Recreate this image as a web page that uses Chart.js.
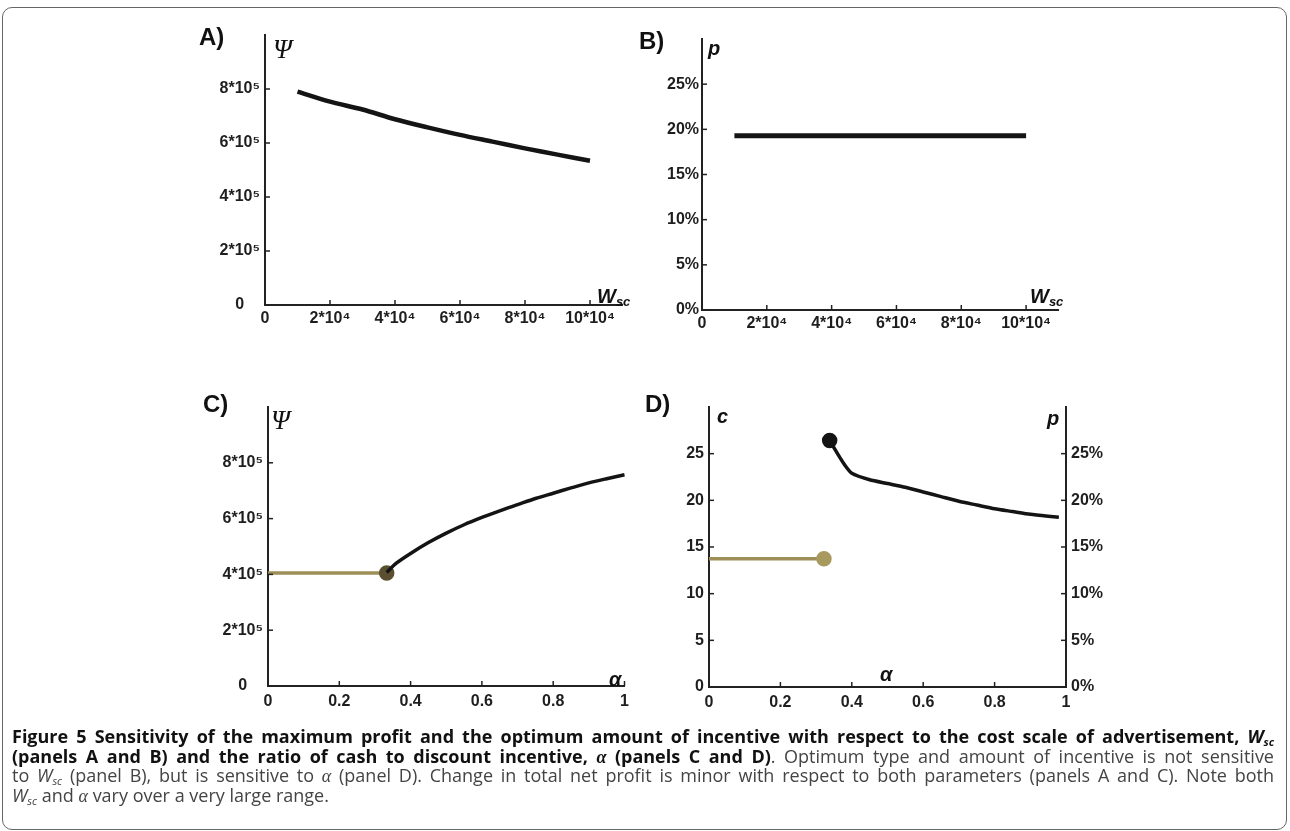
<!DOCTYPE html>
<html>
<head>
<meta charset="utf-8">
<script src="https://cdn.jsdelivr.net/npm/chart.js@4/dist/chart.umd.min.js"></script>
<style>
  body { margin: 0; background: #fff; width: 1290px; height: 831px; overflow: hidden; position: relative; }
  canvas { position: absolute; }
  .frame { position: absolute; left: 2px; top: 7px; width: 1283px; height: 821px; border: 1.5px solid #666; border-radius: 10px; }
  .lbl { position: absolute; line-height: 1; white-space: nowrap; color: #111; }
  .panel { font: bold 24px "Liberation Sans", Arial, sans-serif; }
  .psi { font: italic 27px "Liberation Serif", serif; }
  .var { font: bold italic 20px "Liberation Sans", Arial, sans-serif; }
  .var sub { font-size: 13px; vertical-align: -3px; }
  .cap { position: absolute; left: 12px; height: 19.3px; line-height: 19.3px; white-space: nowrap;
         transform-origin: 0 0; font-family: "Open Sans", sans-serif; font-size: 18px; color: #444; }
  .cap.just { text-align: justify; text-align-last: justify; }
  .cap b { color: #111; font-weight: 700; }
  .cap .al { font-family: "Liberation Serif", serif; font-style: italic; }
  .cap sub { font-size: 11px; vertical-align: -3px; }
</style>
</head>
<body>
<div class="frame"></div>

<canvas id="panelA"></canvas>
<canvas id="panelB"></canvas>
<canvas id="panelC"></canvas>
<canvas id="panelD"></canvas>

<div class="lbl panel" style="left:199px;top:23px">A)</div>
<div class="lbl panel" style="left:639px;top:27px">B)</div>
<div class="lbl panel" style="left:203px;top:390px">C)</div>
<div class="lbl panel" style="left:645px;top:390px">D)</div>

<div class="lbl psi" style="left:273px;top:34px">Ψ</div>
<div class="lbl var" style="left:597px;top:285px">W<sub>sc</sub></div>
<div class="lbl var" style="left:708px;top:37px">p</div>
<div class="lbl var" style="left:1030px;top:285px">W<sub>sc</sub></div>
<div class="lbl psi" style="left:271px;top:405px">Ψ</div>
<div class="lbl var" style="left:609px;top:668px">α</div>
<div class="lbl var" style="left:717px;top:405px">c</div>
<div class="lbl var" style="left:1047px;top:407px">p</div>
<div class="lbl var" style="left:880px;top:663px">α</div>

<div class="cap just" style="top:727px"><b>Figure 5 Sensitivity of the maximum profit and the optimum amount of incentive with respect to the cost scale of advertisement, <i>W</i><sub><i>sc</i></sub></b></div>
<div class="cap just" style="top:746.5px"><b>(panels A and B) and the ratio of cash to discount incentive, <span class="al">α</span> (panels C and D)</b>. Optimum type and amount of incentive is not sensitive</div>
<div class="cap just" style="top:766px">to <i>W</i><sub><i>sc</i></sub> (panel B), but is sensitive to <span class="al">α</span> (panel D). Change in total net profit is minor with respect to both parameters (panels A and C). Note both</div>
<div class="cap" style="top:785.5px"><i>W</i><sub><i>sc</i></sub> and <span class="al">α</span> vary over a very large range.</div>

<script>
// tick values and labels
const wscTicks = [0, 20000, 40000, 60000, 80000, 100000];
const wscTickLabels = ['0', '2*10⁴', '4*10⁴', '6*10⁴', '8*10⁴', '10*10⁴'];
const psiTicks = [0, 200000, 400000, 600000, 800000];
const psiTickLabels = ['0', '2*10⁵', '4*10⁵', '6*10⁵', '8*10⁵'];
const pctTicks = [0, 0.05, 0.10, 0.15, 0.20, 0.25];
const pctTickLabels = ['0%', '5%', '10%', '15%', '20%', '25%'];
const alphaTicks = [0, 0.2, 0.4, 0.6, 0.8, 1];
const alphaTickLabels = ['0', '0.2', '0.4', '0.6', '0.8', '1'];
const cashTicks = [0, 5, 10, 15, 20, 25];
const cashTickLabels = ['0', '5', '10', '15', '20', '25'];

// panel A: profit vs W_sc
const wscA = [10000, 20000, 30000, 40000, 50000, 60000, 70000, 80000, 90000, 100000];
const psiA = [790000, 753000, 724000, 688000, 658000, 630000, 605000, 580000, 557000, 534000];

// panel B: discount vs W_sc
const wscB = [10000, 100000];
const pB = [0.193, 0.193];

// panel C: profit vs alpha
const alphaCashC = [0, 0.333];
const psiCashC = [405000, 405000];
const alphaDiscC = [0.333, 0.36, 0.40, 0.45, 0.50, 0.55, 0.60, 0.65, 0.70, 0.75, 0.80, 0.85, 0.90, 0.95, 1.0];
const psiDiscC = [407000, 440000, 475000, 514000, 548000, 578000, 604000, 628000, 650000, 672000, 691000, 710000, 728000, 743000, 757000];

// panel D: cash c and discount p vs alpha
const alphaCashD = [0, 0.322];
const cCashD = [13.75, 13.75];
const alphaDiscD = [0.338, 0.36, 0.38, 0.40, 0.45, 0.50, 0.55, 0.60, 0.65, 0.70, 0.75, 0.80, 0.85, 0.90, 0.95, 0.98];
const pDiscD = [0.264, 0.250, 0.238, 0.229, 0.222, 0.218, 0.214, 0.209, 0.204, 0.199, 0.195, 0.191, 0.188, 0.185, 0.183, 0.182];

const INK = '#141414';
const TAN = '#9d8f57';

Chart.defaults.font.family = '"Liberation Sans", Arial, sans-serif';
Chart.defaults.font.size = 16;
Chart.defaults.font.weight = 'bold';
Chart.defaults.color = '#1e1e1e';

const pts = (xs, ys) => xs.map((x, i) => ({x: x, y: ys[i]}));

// small tick marks pointing into the plot
const inwardTicks = {
  id: 'inwardTicks',
  afterDraw(chart) {
    const ctx = chart.ctx, a = chart.chartArea;
    ctx.save();
    ctx.strokeStyle = '#222';
    ctx.lineWidth = 1.5;
    Object.values(chart.scales).forEach(s => {
      s.ticks.forEach(t => {
        const p = s.getPixelForValue(t.value);
        ctx.beginPath();
        if (s.position === 'bottom') { ctx.moveTo(p, a.bottom); ctx.lineTo(p, a.bottom - 5); }
        else if (s.position === 'left') { ctx.moveTo(a.left, p); ctx.lineTo(a.left + 5, p); }
        else { ctx.moveTo(a.right, p); ctx.lineTo(a.right - 5, p); }
        ctx.stroke();
      });
    });
    ctx.restore();
  }
};

function fixedTicks(values) {
  return scale => { scale.ticks = values.map(v => ({value: v})); };
}

function axis(opts) {
  return {
    type: 'linear',
    position: opts.position,
    min: opts.min,
    max: opts.max,
    grid: {display: false, drawTicks: false},
    border: {display: true, color: '#222', width: 2},
    afterBuildTicks: fixedTicks(opts.ticks),
    afterFit: s => { if (opts.position === 'bottom') s.height = 35; else s.width = 70; },
    ticks: {
      padding: opts.padding,
      crossAlign: opts.crossAlign || 'near',
      autoSkip: false,
      maxRotation: 0,
      callback: (v, i) => opts.labels[i]
    }
  };
}

function placePanel(id, area, hasRight) {
  const padL = 10, padT = 25, padR = hasRight ? 10 : 45, padB = 10;
  const cv = document.getElementById(id);
  const w = Math.round((area.r - area.l) + padL + 70 + (hasRight ? 70 : 0) + padR);
  const h = Math.round((area.b - area.t) + padT + 35 + padB);
  cv.width = w; cv.height = h;
  cv.style.left = (area.l - padL - 70) + 'px';
  cv.style.top = (area.t - padT) + 'px';
  cv.style.width = w + 'px'; cv.style.height = h + 'px';
  return {left: padL, top: padT, right: w - (area.r - area.l) - padL - 70 - (hasRight ? 70 : 0), bottom: padB};
}

function lineSet(data, color, width, extra) {
  return Object.assign({
    data: data, borderColor: color, backgroundColor: color, borderWidth: width,
    pointRadius: 0, tension: 0.3, fill: false, clip: false
  }, extra || {});
}

function makeChart(id, area, hasRight, datasets, scales) {
  const pad = placePanel(id, area, hasRight);
  return new Chart(document.getElementById(id), {
    type: 'line',
    data: {datasets: datasets},
    options: {
      responsive: false, animation: false, devicePixelRatio: 1,
      layout: {padding: pad},
      plugins: {legend: {display: false}, tooltip: {enabled: false}},
      scales: scales
    },
    plugins: [inwardTicks]
  });
}

makeChart('panelA', {l: 265, t: 35, r: 622.5, b: 305}, false,
  [lineSet(pts(wscA, psiA), INK, 4.5)],
  {
    x: axis({position: 'bottom', min: 0, max: 110000, ticks: wscTicks, labels: wscTickLabels, padding: 4}),
    y: axis({position: 'left', min: 0, max: 1000000, ticks: psiTicks, labels: psiTickLabels, padding: 5, crossAlign: 'center'})
  });

makeChart('panelB', {l: 701.5, t: 38.5, r: 1058, b: 309.5}, false,
  [lineSet(pts(wscB, pB), INK, 5, {tension: 0})],
  {
    x: axis({position: 'bottom', min: 0, max: 110000, ticks: wscTicks, labels: wscTickLabels, padding: 4}),
    y: axis({position: 'left', min: 0, max: 0.3, ticks: pctTicks, labels: pctTickLabels, padding: 3})
  });

const endDot = n => (c => c.dataIndex === n ? 6 : 0);

makeChart('panelC', {l: 268, t: 407, r: 624.5, b: 686}, false,
  [
    lineSet(pts(alphaDiscC, psiDiscC), INK, 3.5),
    lineSet(pts(alphaCashC, psiCashC), TAN, 3.5, {tension: 0, pointRadius: endDot(1), pointBackgroundColor: '#5a4f30', pointBorderColor: '#5a4f30'})
  ],
  {
    x: axis({position: 'bottom', min: 0, max: 1, ticks: alphaTicks, labels: alphaTickLabels, padding: 6}),
    y: axis({position: 'left', min: 0, max: 1000000, ticks: psiTicks, labels: psiTickLabels, padding: 5, crossAlign: 'center'})
  });

makeChart('panelD', {l: 709, t: 407, r: 1066, b: 687}, true,
  [
    lineSet(pts(alphaCashD, cCashD), TAN, 3.5, {tension: 0, yAxisID: 'yC', pointRadius: endDot(1), pointBackgroundColor: '#a8995e', pointBorderColor: '#a8995e'}),
    lineSet(pts(alphaDiscD, pDiscD), INK, 3.5, {yAxisID: 'yP', tension: 0.2, pointRadius: endDot(0), pointBackgroundColor: INK, pointBorderColor: INK})
  ],
  {
    x: axis({position: 'bottom', min: 0, max: 1, ticks: alphaTicks, labels: alphaTickLabels, padding: 6}),
    yC: axis({position: 'left', min: 0, max: 30, ticks: cashTicks, labels: cashTickLabels, padding: 5}),
    yP: axis({position: 'right', min: 0, max: 0.3, ticks: pctTicks, labels: pctTickLabels, padding: 5})
  });

// squeeze each caption line so it fills the frame like the original
(function fitCaption() {
  const target = 1262;
  const lines = Array.from(document.querySelectorAll('.cap'));
  const natural = lines.map(el => {
    const probe = document.createElement('span');
    probe.innerHTML = el.innerHTML;
    probe.style.cssText = 'position:absolute;visibility:hidden;white-space:nowrap;font-family:"Open Sans",sans-serif;font-size:18px';
    document.body.appendChild(probe);
    const w = probe.offsetWidth;
    probe.remove();
    return w;
  });
  let k = 1;
  lines.forEach((el, i) => {
    if (el.classList.contains('just')) k = Math.min(1, target / natural[i]);
    el.style.width = (target / k) + 'px';
    el.style.transform = 'scaleX(' + k + ')';
  });
})();
</script>
</body>
</html>
